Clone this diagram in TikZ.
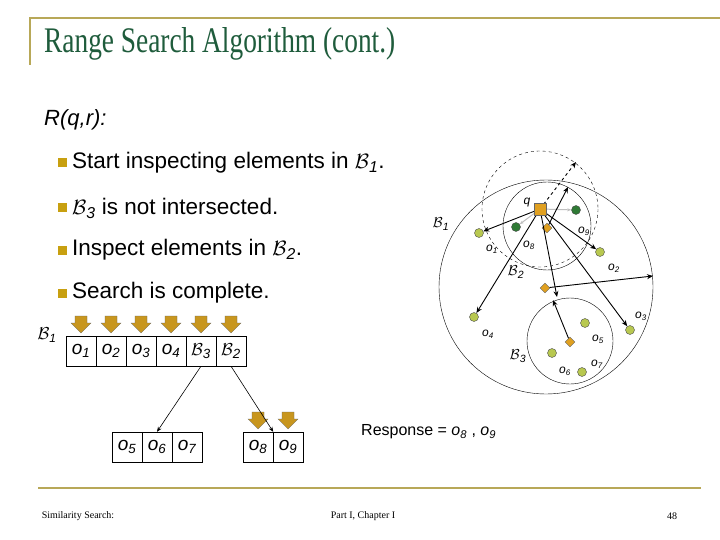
\documentclass[tikz,border=0pt]{standalone}
\usepackage{fontspec}
\setmainfont{Liberation Sans}
\newfontfamily\serifttl{Liberation Serif}
\usetikzlibrary{arrows.meta,shapes.geometric}
\definecolor{ttl}{HTML}{1F5C3C}
\definecolor{frm}{HTML}{B8A858}
\definecolor{bul}{HTML}{C8A010}
\definecolor{garr}{HTML}{C8961E}
\definecolor{lgr}{HTML}{B8C850}
\definecolor{dgr}{HTML}{2F7A35}
\definecolor{org}{HTML}{E0A020}
\newcommand{\cB}[1]{$\mathcal{B}$\textsubscript{\textit{#1}}}
\newcommand{\ob}[1]{\textit{o\textsubscript{#1}}}
\begin{document}
\begin{tikzpicture}[x=1pt,y=-1pt,
  bl/.style={fill=bul,minimum size=9pt,inner sep=0pt},
  btxt/.style={anchor=west,font=\fontsize{22.5}{24}\selectfont,inner sep=0pt},
  cell/.style={draw,minimum width=30pt,minimum height=30pt,inner sep=0pt,font=\fontsize{19}{20}\selectfont},
  darr/.style={fill=garr,draw=black!60,line width=0.3pt},
  pt/.style={circle,draw=black!70,fill=lgr,minimum size=9pt,inner sep=0pt},
  dpt/.style={circle,draw=black!70,fill=dgr,minimum size=9pt,inner sep=0pt},
  dia/.style={diamond,draw=black!60,fill=org,minimum size=10pt,inner sep=0pt},
  lab/.style={font=\fontsize{12}{13}\selectfont,inner sep=0pt},
  ar/.style={-{Stealth[length=6pt,width=5pt]},line width=0.9pt},
  sarr/.style={-{Stealth[length=5pt,width=4pt]},line width=0.6pt}]
\useasboundingbox (0,0) rectangle (720,540);
\fill[white] (0,0) rectangle (720,540);
% frame
\draw[frm,line width=1.5pt] (30,65) -- (30,18) -- (720,18);
\draw[frm,line width=2.5pt] (38,488) -- (701,488);
\node[anchor=west,inner sep=0pt,text=ttl] (title) at (44,44) {\scalebox{0.76}[1]{\serifttl\fontsize{36}{40}\selectfont Range Search Algorithm (cont.)}};
\node[anchor=west,inner sep=0pt,font=\fontsize{22}{24}\selectfont\itshape] (rq) at (44,120) {R(q,r):};
% bullets
\node[bl] (b1) at (62,163) {}; \node[btxt] (t1) at (72,163) {Start inspecting elements in \cB{1}.};
\node[bl] (b2) at (62,208) {}; \node[btxt] (t2) at (72,208) {\cB{3} is not intersected.};
\node[bl] (b3) at (62,250) {}; \node[btxt] (t3) at (72,250) {Inspect elements in \cB{2}.};
\node[bl] (b4) at (62,293) {}; \node[btxt] (t4) at (72,293) {Search is complete.};
% boxes
\node[font=\fontsize{17}{18}\selectfont] (B1l) at (47,335) {\cB{1}};
\foreach \i/\t in {0/\ob{1},1/\ob{2},2/\ob{3},3/\ob{4},4/\cB{3},5/\cB{2}}{
  \node[cell] (c\i) at (81+30*\i,351) {\t};
  \fill[darr] (75+30*\i,316) -- (87+30*\i,316) -- (87+30*\i,323) -- (91+30*\i,323) -- (81+30*\i,333) -- (71+30*\i,323) -- (75+30*\i,323) -- cycle;
}
\foreach \i/\t in {0/\ob{5},1/\ob{6},2/\ob{7}}{\node[cell] (d\i) at (127+30*\i,447) {\t};}
\foreach \i/\t in {0/\ob{8},1/\ob{9}}{
  \node[cell] (e\i) at (258+30*\i,447) {\t};
  \fill[darr] (252+30*\i,412) -- (264+30*\i,412) -- (264+30*\i,419) -- (268+30*\i,419) -- (258+30*\i,429) -- (248+30*\i,419) -- (252+30*\i,419) -- cycle;
}
\draw[sarr] (c4.south) -- (d1.north);
\draw[sarr] (c5.south) -- (e0.north east);
\node[anchor=west,inner sep=0pt,font=\fontsize{16}{18}\selectfont] (resp) at (361,432) {Response = \ob{8} , \ob{9}};
% footer
\node[inner sep=0pt,font=\serifttl\fontsize{10}{12}\selectfont] (f1) at (78,516) {Similarity Search:};
\node[inner sep=0pt,font=\serifttl\fontsize{10}{12}\selectfont] (f2) at (363,516) {Part I, Chapter I};
\node[inner sep=0pt,font=\serifttl\fontsize{10}{12}\selectfont] (f3) at (672,516) {48};
% geometry
\coordinate (q) at (540,209);
\draw (546,287) circle (107);
\draw (547,226) circle (44);
\draw (570,341) circle (43);
\draw[dashed] (q) circle (58);
\node[dpt] (o9) at (576,210) {};
\node[dpt] (o8) at (516,227) {};
\node[pt] (o1) at (479,233) {};
\node[pt] (o2) at (600,252) {};
\node[pt] (o3) at (630,330) {};
\node[pt] (o4) at (474,317) {};
\node[pt] (o5) at (585,323) {};
\node[pt] (o6) at (552,353) {};
\node[pt] (o7) at (582,372) {};
\node[dia] (cB2) at (547,228) {};
\node[dia] (cB1) at (545,288) {};
\node[dia] (cB3) at (570,342) {};
\coordinate (eB2) at (568,187);
\coordinate (eB1) at (653,276);
\coordinate (eB3) at (553,300);
\coordinate (eB3q) at (557,297);
\coordinate (eq) at (576,162);
\draw[black!25,line width=1pt,-{Stealth[length=4pt]}] (q) -- (o9);
\draw[black!25,line width=1pt,-{Stealth[length=4pt]}] (q) -- (o8);
\draw[ar] (q) -- (o1);
\draw[ar] (q) -- (o2);
\draw[ar] (q) -- (o3);
\draw[ar] (q) -- (o4);
\draw[ar] (q) -- (eB3q);
\draw[ar,dashed] (q) -- (eq);
\draw[ar] (cB2) -- (eB2);
\draw[ar] (cB1) -- (eB1);
\draw[ar] (cB3) -- (eB3);
\node[rectangle,draw=black!60,fill=org,minimum size=12pt,inner sep=0pt] (qs) at (q) {};
\node[lab] (lq) at (527,203) {\textit{q}};
\node[lab] (l1) at (492,249) {\ob{1}};
\node[lab] (l8) at (529,245) {\ob{8}};
\node[lab] (l9) at (584,231) {\ob{9}};
\node[lab] (l2) at (614,268) {\ob{2}};
\node[lab] (l3) at (641,316) {\ob{3}};
\node[lab] (l4) at (488,334) {\ob{4}};
\node[lab] (l5) at (598,339) {\ob{5}};
\node[lab] (l6) at (565,371) {\ob{6}};
\node[lab] (l7) at (597,364) {\ob{7}};
\node[font=\fontsize{15}{16}\selectfont,inner sep=0pt] (lB1) at (441,224) {\cB{1}};
\node[font=\fontsize{15}{16}\selectfont,inner sep=0pt] (lB2) at (516,272) {\cB{2}};
\node[font=\fontsize{15}{16}\selectfont,inner sep=0pt] (lB3) at (518,356) {\cB{3}};
\end{tikzpicture}
\end{document}
